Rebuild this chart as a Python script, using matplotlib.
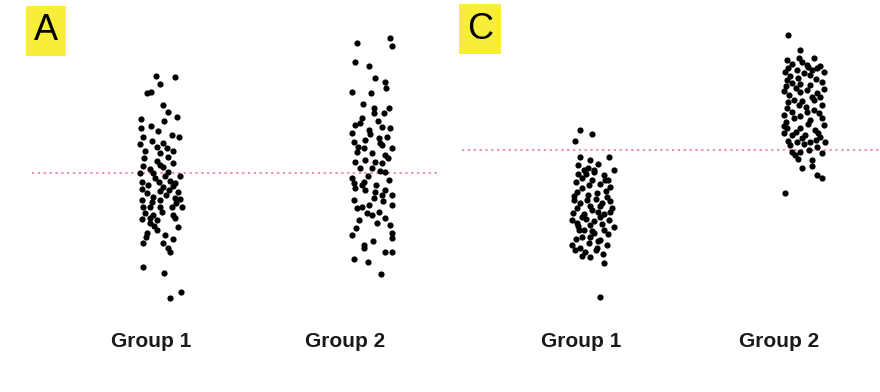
import numpy as np
import matplotlib.pyplot as plt

# values: y = score (0 at the dotted line), jit = sideways spread
a1_y = [9.7, 9.6, 8.9, 8.0, 8.1, 6.8, 6.1, 5.6, 5.2, 5.4, 4.5, 4.7, 3.6, 3.6, 3.0, 2.6,
        2.5, 2.2, 2.2, 2.0, 1.0, 0.7, 0.0, -0.9, 0.0, 0.6, 0.1, -0.9, -1.4, -1.3, -1.7,
        -1.9, -2.0, -2.4, -2.7, -2.7, -2.9, -2.5, -2.6, -3.4, -3.4, -3.4, -3.4, -3.4,
        -4.0, -4.2, -4.2, -4.6, -5.0, -4.7, -4.5, -5.7, -6.4, -7.0, -7.0, -7.5, -6.6,
        -7.9, -9.4, -10.0, -12.5, -11.9, 1.5, 0.4, -0.5, -0.3, -0.8, -1.2, -1.8, -2.2,
        1.2, 1.6, 3.2, 3.8, 4.2, -1.0, -1.6, -3.9, -5.3, -5.4, -6.0, -6.2, -3.0, -4.5,
        2.9, -0.3, 0.8]
a1_jit = [-4, 15, 0, -13, -9, 3, 8, 17, 4, -19, -19, -9, -17, 19, 3, -3,
          7, 13, -15, 0, 13, -17, -20, -18, -7, 3, 8, -1, 3, 13, 9,
          18, -13, -7, -18, 0, -8, 15, 20, -17, -10, 0, 12, 22,
          -15, -7, 13, -18, -10, -3, 15, -3, -14, -17, 3, 8, 13,
          10, -17, 4, 10, 21, -16, -10, -5, 5, 10, -12, 0, 6,
          -3, 8, -8, 12, -2, 15, -18, 2, -6, 18, -13, 5, 16, -10,
          -20, 20, 0]

a2_y = [13.0, 13.5, 12.7, 11.1, 10.7, 9.5, 9.1, 8.5, 8.1, 8.0, 6.9, 6.5, 6.0, 6.5,
        5.5, 4.8, 4.3, 4.6, 4.5, 3.1, 3.3, 3.5, 3.6, 2.8, 2.5, 2.1, 2.0, 1.8, 1.1,
        1.3, 1.1, 1.0, 0.5, 0.5, 0.1, -0.5, -0.9, -0.7, -1.5, -1.7, -1.9, -1.7, -2.5,
        -2.2, -2.2, -2.7, -3.2, -3.5, -3.4, -3.9, -3.2, -4.2, -4.5, -4.7, -6.2, -6.0,
        -6.5, -7.2, -7.5, -7.9, -7.9, -8.6, -8.9, -10.1, 5.0, 5.2, 3.9, 2.6, 0.2, -0.3,
        -1.2, -1.0, 1.5, 2.5, -2.8, -4.0, -5.0, -5.5, -6.8, -5.2, -1.2, 3.0, 4.0, 6.0]
a2_jit = [-13, 20, 22, -15, -1, 5, 15, 16, -18, 1, -7, 4, 14, 19,
          -8, -15, -1, 12, 20, -16, -5, 9, 17, 12, 22, -13, 2, 15, -15,
          -5, 5, 12, -10, 2, 15, -18, -6, 19, -15, -5, 5, 15, 4,
          12, 22, -16, -1, -13, -8, 9, 22, 2, 15, -11, -18, 22,
          22, -6, -6, 15, 22, -16, -2, 11, -10, 8, 0, -12, 10, -2,
          6, -16, 18, -6, 13, -3, 7, -14, 3, 20, -8, 10, -18, 4]

c1_y = [2.0, 1.6, 0.9, -0.7, -0.7, -1.0, -2.0, -2.0, -2.0, -2.8, -3.0, -3.7, -3.5,
        -4.2, -4.3, -4.7, -5.0, -5.0, -5.3, -5.8, -6.0, -5.8, -6.7, -6.7, -7.0, -7.3,
        -7.5, -8.0, -7.7, -8.0, -8.3, -8.7, -9.0, -9.3, -9.5, -9.5, -10.0, -9.8, -10.2,
        -10.7, -11.3, -14.7, -1.5, -1.4, -2.4, -2.5, -3.2, -3.0, -3.4, -3.8, -4.1, -4.5,
        -4.9, -5.3, -5.1, -5.6, -6.3, -6.2, -6.4, -6.9, -7.1, -7.6, -7.4, -8.0, -8.4,
        -8.7, -8.9, -9.1, -9.8, -10.4, -1.8, -3.0, -4.6, -5.6, -6.4, -8.1, -7.0, -6.2,
        -10.6, -10.0, -2.4, -2.2]
c1_jit = [-10, 2, -15, 19, -10, 0, 24, -6, 4, -8, 15, 20, -1,
          -13, 7, 17, -16, -3, 12, -13, 2, 22, -8, 10, 19, -13,
          0, 14, 24, -11, 4, -8, 10, -1, -18, 17, -15, 7, -5,
          0, 14, 10, -12, 8, -4, 14, -14, 2, 10, -8, 16, -2,
          6, -10, 20, 0, -17, 8, 14, -4, 4, -12, 12, -6, 18,
          0, -14, 8, -10, 13, -2, 18, -16, 10, -6, 2, -18, 20,
          -8, 6, -12, 4]

c2_y = [11.5, 10.0, 9.2, 9.2, 9.0, 8.5, 8.2, 7.8, 7.8, 8.0, 7.5, 7.0, 6.7, 5.8,
        6.0, 5.7, 5.5, 5.0, 4.5, 4.2, 4.5, 3.8, 3.7, 3.5, 3.2, 3.0, 2.5, 2.2, 2.2,
        2.0, 1.5, 1.5, 1.3, 1.7, 0.8, 0.8, 0.8, 0.5, 0.3, -0.2, -0.5, 0.0, -1.0,
        -1.8, -2.5, -2.8, -4.3, 8.6, 8.8, 8.0, 8.4, 7.4, 7.2, 7.7, 7.1, 6.8, 6.4,
        6.2, 6.5, 5.9, 5.3, 5.0, 4.9, 5.3, 4.8, 4.3, 4.0, 3.8, 3.4, 3.2, 2.8, 2.6,
        1.0, 1.8, 0.9, 0.6, -0.3, -0.2, -1.6, -0.9, 1.7, 2.4, 6.6, 8.3, 8.2, 6.1, 1.2]
c2_jit = [-14, -2, -3, 12, -15, 5, 15, 22, -17, -5, 8, -15, -10, -2,
          5, 15, -13, 12, 20, -15, -3, 5, 17, -18, -8, 8, 22, -15, -2,
          13, -10, 3, 18, -18, -5, 8, 23, -12, 15, -2, -7, 7, 10,
          0, 15, 20, -17, -10, 0, 10, 18, -12, -4, 2, 14, 20, -16,
          -6, 8, -18, 10, -8, 0, 18, -14, 4, 12, -10, -2, 20, -16, 6,
          14, -6, -14, 2, 20, -10, 10, -4, 16, -18, -2, 6, -14, 22, 0]

groups = ["Group 1", "Group 2"]

fig = plt.figure(figsize=(8.8, 3.92), dpi=100)
axA = fig.add_axes([0, 0, 0.5, 1])
axC = fig.add_axes([0.5, 0, 0.5, 1])

panels = [
    (axA, [a1_y, a2_y], [a1_jit, a2_jit], 210, (0.238, 2.333), (-21.9, 17.3), 0.39, [0.96, 1.88]),
    (axC, [c1_y, c2_y], [c1_jit, c2_jit], 212, (0.292, 2.368), (-24.2, 15.0), 0.396, [0.96, 1.89]),
]

for ax, ys, jits, step, xl, yl, x0, lab_x in panels:
    for i, (y, j) in enumerate(zip(ys, jits)):
        x = (i + 1) + np.array(j) / step
        ax.scatter(x, y, s=20, color="black", linewidths=0, zorder=3)
    ax.hlines(0, x0, xl[1], colors="#f28fb0", linestyles=(0, (1.2, 1.8)), linewidth=1.4, zorder=2)
    for lx, g in zip(lab_x, groups):
        ax.text(lx, 0.128, g, transform=ax.get_xaxis_transform(), ha="center", va="center",
                fontsize=15, fontweight="bold", family="Liberation Sans", color="#1a1a1a")
    ax.set_xlim(*xl)
    ax.set_ylim(*yl)
    ax.axis("off")

box = dict(boxstyle="square,pad=0.22", facecolor="#f8ee3a", edgecolor="none")
fig.text(0.052, 0.921, "A", fontsize=26, ha="center", va="center", bbox=box, family="Liberation Sans")
fig.text(0.546, 0.926, "C", fontsize=26, ha="center", va="center", bbox=box, family="Liberation Sans")

fig.savefig("out.png", dpi=100, facecolor="white")
